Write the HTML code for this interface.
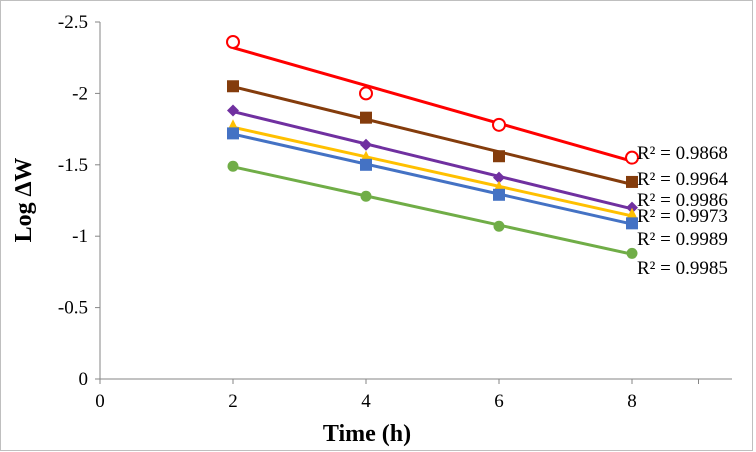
<!DOCTYPE html>
<html><head><meta charset="utf-8"><style>
body{margin:0;background:#fff}
svg{display:block;font-family:"Liberation Serif",serif}
</style></head><body>
<svg width="756" height="452" viewBox="0 0 756 452">
<rect x="0.5" y="0.5" width="752" height="450" fill="#fff" stroke="#bfbfbf"/>
<g id="axes"></g>
<g id="plot"></g>
<text x="31" y="200" transform="rotate(-90 31 200)" text-anchor="middle" font-weight="bold" font-size="24">Log ∆W</text>
<text x="367" y="441" text-anchor="middle" font-weight="bold" font-size="24">Time (h)</text>
</svg>
<script>
const xs=[2,4,6,8];
const red=[-2.36,-2.0,-1.78,-1.55];
const brown=[-2.05,-1.83,-1.56,-1.38];
const purple=[-1.88,-1.64,-1.41,-1.20];
const yellow=[-1.77,-1.55,-1.34,-1.15];
const blue=[-1.72,-1.50,-1.29,-1.09];
const green=[-1.49,-1.28,-1.07,-0.88];
const r2Labels=["R² = 0.9868","R² = 0.9964","R² = 0.9986","R² = 0.9973","R² = 0.9989","R² = 0.9985"];
const xTicks=[0,2,4,6,8];
const yTicks=[0,-0.5,-1,-1.5,-2,-2.5];
const NS="http://www.w3.org/2000/svg";
const X=v=>100+v*66.5;
const Y=v=>379+v*142.8;
function mk(t,a,p){const e=document.createElementNS(NS,t);for(const k in a)e.setAttribute(k,a[k]);p.appendChild(e);return e;}
const axes=document.getElementById('axes'),plot=document.getElementById('plot');
let ya=mk('line',{x1:100,y1:22,x2:100,y2:379,stroke:'#868686'},axes);


let xa=mk('line',{x1:100,y1:379,x2:732,y2:379,stroke:'#868686'},axes);


yTicks.forEach(v=>{mk('line',{x1:95,x2:100,y1:Y(v),y2:Y(v),stroke:'#868686'},axes);
 const t=mk('text',{x:88,y:Y(v)+6,'text-anchor':'end','font-size':19},axes);t.textContent=String(v);
 
 });
xTicks.forEach(v=>{mk('line',{x1:X(v),x2:X(v),y1:379,y2:384,stroke:'#868686'},axes);
 const t=mk('text',{x:X(v),y:407,'text-anchor':'middle','font-size':19},axes);t.textContent=String(v);
 
 });
[X(8)+66.5].forEach(x=>mk('line',{x1:x,x2:x,y1:379,y2:384,stroke:'#868686'},axes));
const series=[[red,'#ff0000','circleOpen','red'],[brown,'#843c0c','square','brown'],[purple,'#7030a0','diamond','purple'],[yellow,'#ffc000','triangle','yellow'],[blue,'#4472c4','square','blue'],[green,'#70ad47','circle','green']];
const labY=[159,185,206,222,245,274];
series.forEach(([d,c,m,n],i)=>{
 const n4=xs.length,mx=xs.reduce((a,b)=>a+b)/n4,my=d.reduce((a,b)=>a+b)/n4;
 let sxy=0,sxx=0;xs.forEach((x,j)=>{sxy+=(x-mx)*(d[j]-my);sxx+=(x-mx)**2;});
 const b=sxy/sxx,a=my-b*mx;
 const l=mk('line',{x1:X(2),y1:Y(a+b*2),x2:X(8),y2:Y(a+b*8),stroke:c,'stroke-width':3},plot);
 
 
 xs.forEach((x,j)=>{const px=X(x),py=Y(d[j]);let e;
  if(m=='circleOpen')e=mk('circle',{cx:px,cy:py,r:6,fill:'#fff',stroke:c,'stroke-width':2},plot);
  else if(m=='circle')e=mk('circle',{cx:px,cy:py,r:5.5,fill:c},plot);
  else if(m=='square')e=mk('rect',{x:px-6,y:py-6,width:12,height:12,fill:c},plot);
  else if(m=='diamond')e=mk('polygon',{points:`${px},${py-6} ${px+6},${py} ${px},${py+6} ${px-6},${py}`,fill:c},plot);
  else e=mk('polygon',{points:`${px},${py-7} ${px+6},${py+5} ${px-6},${py+5}`,fill:c},plot);
  
  });
 const t=mk('text',{x:637,y:labY[i],'font-size':19},plot);t.textContent=r2Labels[i];
 
 
});
</script>
</body></html>
